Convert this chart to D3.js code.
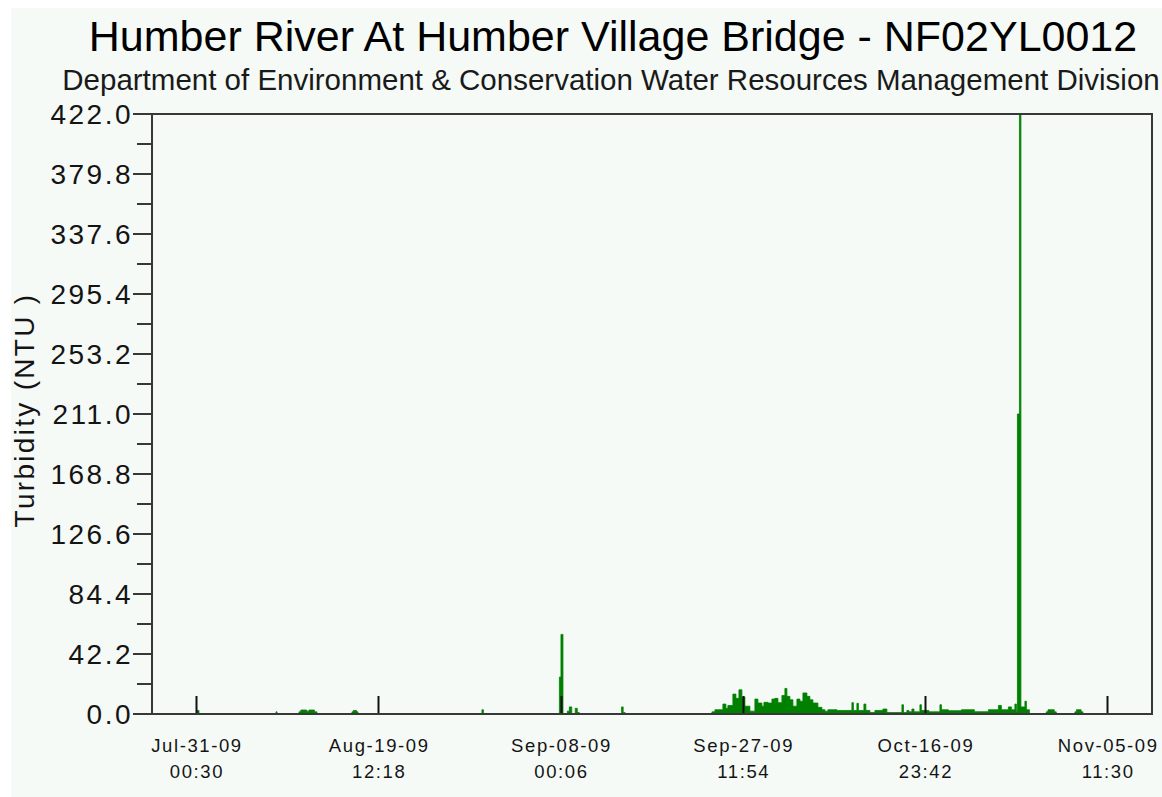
<!DOCTYPE html>
<html>
<head>
<meta charset="utf-8">
<script src="https://cdn.jsdelivr.net/npm/d3@7"></script>
<style>
  html, body { margin: 0; padding: 0; background: #ffffff; }
  svg { display: block; }
  text { font-family: "Liberation Sans", Arial, Helvetica, sans-serif; fill: #141414; }
</style>
</head>
<body>
<svg id="chart" width="1162" height="797"></svg>
<script>
// Station record: turbidity readings (NTU), step series; each value holds until the next time.
const readingTimes = [
  "2009-07-31 02:30", "2009-07-31 07:40",
  "2009-08-08 13:20", "2009-08-08 16:00",
  "2009-08-11 00:20", "2009-08-11 05:00", "2009-08-11 20:00", "2009-08-12 02:00", "2009-08-12 16:00", "2009-08-12 22:30",
  "2009-08-16 16:20", "2009-08-16 20:00", "2009-08-17 04:00", "2009-08-17 07:50",
  "2009-08-30 14:00", "2009-08-30 17:40",
  "2009-09-07 20:50", "2009-09-08 00:50", "2009-09-08 06:00",
  "2009-09-08 17:15", "2009-09-08 22:20", "2009-09-09 04:30",
  "2009-09-09 13:30", "2009-09-09 18:40", "2009-09-09 23:50",
  "2009-09-14 12:25", "2009-09-14 16:30", "2009-09-14 21:35",
  "2009-09-24 04:20", "2009-09-24 12:00", "2009-09-25 08:30", "2009-09-25 16:15", "2009-09-25 21:20",
  "2009-09-26 10:10", "2009-09-26 17:55", "2009-09-27 01:40", "2009-09-27 09:20", "2009-09-27 17:00",
  "2009-09-28 05:50", "2009-09-28 18:40", "2009-09-29 02:25", "2009-09-29 12:40", "2009-09-29 17:50",
  "2009-09-30 04:05", "2009-09-30 14:20", "2009-09-30 22:00", "2009-10-01 05:45", "2009-10-01 16:00",
  "2009-10-01 23:40", "2009-10-02 04:50", "2009-10-02 12:30", "2009-10-02 20:15", "2009-10-03 06:30",
  "2009-10-03 14:10", "2009-10-03 21:55", "2009-10-04 08:10", "2009-10-04 15:50", "2009-10-04 23:35",
  "2009-10-05 12:25", "2009-10-05 22:40", "2009-10-06 06:20", "2009-10-06 14:05", "2009-10-07 13:10",
  "2009-10-09 03:40", "2009-10-09 07:30", "2009-10-09 16:30", "2009-10-09 20:20", "2009-10-10 10:30",
  "2009-10-10 15:30", "2009-10-11 01:55", "2009-10-11 14:45", "2009-10-12 11:15", "2009-10-12 21:30",
  "2009-10-14 12:00", "2009-10-14 16:00", "2009-10-15 00:50", "2009-10-15 06:00", "2009-10-15 13:40",
  "2009-10-15 19:00", "2009-10-16 10:15", "2009-10-16 14:00", "2009-10-17 09:20", "2009-10-18 13:35",
  "2009-10-18 17:30", "2009-10-19 11:25", "2009-10-20 20:45", "2009-10-22 06:05", "2009-10-23 18:05",
  "2009-10-24 19:45", "2009-10-25 03:25", "2009-10-25 21:25", "2009-10-26 05:05", "2009-10-26 14:05",
  "2009-10-26 17:55", "2009-10-26 20:30", "2009-10-27 01:40", "2009-10-27 05:30", "2009-10-27 15:45",
  "2009-10-27 19:35", "2009-10-28 03:20",
  "2009-10-29 22:30", "2009-10-30 03:00", "2009-10-30 19:00", "2009-10-31 00:10",
  "2009-11-02 00:05", "2009-11-02 04:00", "2009-11-02 16:00", "2009-11-02 20:40"
];
const turbidityNTU = [
  2.5, 0,
  1.5, 0,
  1.5, 2.8, 2.0, 2.8, 1.5, 0,
  1.5, 2.5, 1.5, 0,
  3, 0,
  26, 56, 0,
  2, 5, 0,
  4, 1, 0,
  5, 1, 0,
  1.5, 3, 7, 4, 6,
  14, 11, 17, 12, 5.5,
  2, 10.5, 7.7, 5.5, 8.2,
  7.7, 10.5, 11, 8, 13,
  18, 12.4, 10, 5.5, 10.5,
  9, 14.8, 12.4, 10, 7.7,
  4.7, 3, 2, 3, 2.5,
  8, 2.5, 7.5, 2.5, 7,
  2.5, 1, 2.5, 3.5, 1,
  6.5, 1, 2.5, 1.5, 3.5,
  1.5, 6.5, 2.5, 1.5, 6.5,
  3, 2.3, 3, 1.6, 3,
  6, 3, 5, 3, 7,
  2, 211, 422, 5, 9,
  3, 0,
  1.5, 3, 1.5, 0,
  1.5, 3, 1.5, 0
];

// Axis definitions
const timeDomain = ["2009-07-26 07:03", "2009-11-10 05:59"];
const xTickTimes = ["2009-07-31 00:30", "2009-08-19 12:18", "2009-09-08 00:06",
                    "2009-09-27 11:54", "2009-10-16 23:42", "2009-11-05 11:30"];
const xTickDateLabels = ["Jul-31-09", "Aug-19-09", "Sep-08-09", "Sep-27-09", "Oct-16-09", "Nov-05-09"];
const xTickTimeLabels = ["00:30", "12:18", "00:06", "11:54", "23:42", "11:30"];
const yMax = 422.0;
const yMajorTicks = [0, 42.2, 84.4, 126.6, 168.8, 211.0, 253.2, 295.4, 337.6, 379.8, 422.0];
const yMinorTicks = [21.1, 63.3, 105.5, 147.7, 189.9, 232.1, 274.3, 316.5, 358.7, 400.9];

const titleText = "Humber River At Humber Village Bridge - NF02YL0012";
const subtitleText = "Department of Environment & Conservation Water Resources Management Division";
const yAxisTitle = "Turbidity (NTU )";

const parse = d3.utcParse("%Y-%m-%d %H:%M");
const series = readingTimes.map((t, i) => ({ t: parse(t), v: turbidityNTU[i] }));

const svg = d3.select("#chart");
const plot = { left: 152, right: 1152, top: 114, bottom: 714 };

const x = d3.scaleUtc().domain(timeDomain.map(parse)).range([plot.left, plot.right]);
const y = d3.scaleLinear().domain([0, yMax]).range([plot.bottom, plot.top]);

// Panel background
svg.append("rect")
  .attr("x", 11).attr("y", 8)
  .attr("width", 1162 - 11).attr("height", 797 - 8)
  .attr("fill", "#f5faf7");

// Titles
svg.append("text")
  .attr("x", 613).attr("y", 51)
  .attr("text-anchor", "middle")
  .style("font-size", "43px")
  .style("fill", "#000")
  .text(titleText);

svg.append("text")
  .attr("x", 611).attr("y", 90)
  .attr("text-anchor", "middle")
  .style("font-size", "29.5px")
  .style("fill", "#1a1a1a")
  .text(subtitleText);

// Turbidity trace
const area = d3.area()
  .curve(d3.curveStepAfter)
  .x(d => x(d.t))
  .y0(y(0))
  .y1(d => y(d.v));

svg.append("path")
  .datum(series)
  .attr("d", area)
  .attr("fill", "#008000")
  .attr("stroke", "#008000")
  .attr("stroke-width", 0.8)
  .attr("stroke-linejoin", "miter");

// X ticks drawn inside the plot, above the trace
const xTicksDates = xTickTimes.map(parse);
svg.append("g")
  .selectAll("line")
  .data(xTicksDates)
  .join("line")
  .attr("x1", d => Math.round(x(d)) + 0.5)
  .attr("x2", d => Math.round(x(d)) + 0.5)
  .attr("y1", plot.bottom)
  .attr("y2", plot.bottom - 18)
  .attr("stroke", "#111")
  .attr("stroke-width", 2);

// X tick labels (two lines)
const xl = svg.append("g").style("font-size", "18.5px").style("letter-spacing", "1.6px");
xl.selectAll("text.d")
  .data(xTicksDates)
  .join("text")
  .attr("class", "d")
  .attr("x", d => x(d) + 0.8)
  .attr("y", 752)
  .attr("text-anchor", "middle")
  .text((d, i) => xTickDateLabels[i]);
xl.selectAll("text.h")
  .data(xTicksDates)
  .join("text")
  .attr("class", "h")
  .attr("x", d => x(d) + 0.8)
  .attr("y", 778)
  .attr("text-anchor", "middle")
  .text((d, i) => xTickTimeLabels[i]);

// Y axis ticks
const axisColor = "#383838";
svg.append("g")
  .selectAll("line")
  .data(yMajorTicks)
  .join("line")
  .attr("x1", plot.left - 19).attr("x2", plot.left)
  .attr("y1", d => y(d)).attr("y2", d => y(d))
  .attr("stroke", axisColor).attr("stroke-width", 2);
svg.append("g")
  .selectAll("line")
  .data(yMinorTicks)
  .join("line")
  .attr("x1", plot.left - 15).attr("x2", plot.left)
  .attr("y1", d => y(d)).attr("y2", d => y(d))
  .attr("stroke", axisColor).attr("stroke-width", 2);

svg.append("g")
  .style("font-size", "28px")
  .style("letter-spacing", "2.5px")
  .selectAll("text")
  .data(yMajorTicks)
  .join("text")
  .attr("x", 133)
  .attr("y", d => y(d))
  .attr("dy", "0.36em")
  .attr("text-anchor", "end")
  .text(d => d.toFixed(1));

// Frame
svg.append("rect")
  .attr("x", plot.left).attr("y", plot.top)
  .attr("width", plot.right - plot.left)
  .attr("height", plot.bottom - plot.top)
  .attr("fill", "none")
  .attr("stroke", axisColor)
  .attr("stroke-width", 2);

// Y axis title
svg.append("text")
  .attr("transform", "translate(34,410) rotate(-90)")
  .attr("text-anchor", "middle")
  .style("font-size", "28px")
  .style("letter-spacing", "2.3px")
  .text(yAxisTitle);
</script>
</body>
</html>
